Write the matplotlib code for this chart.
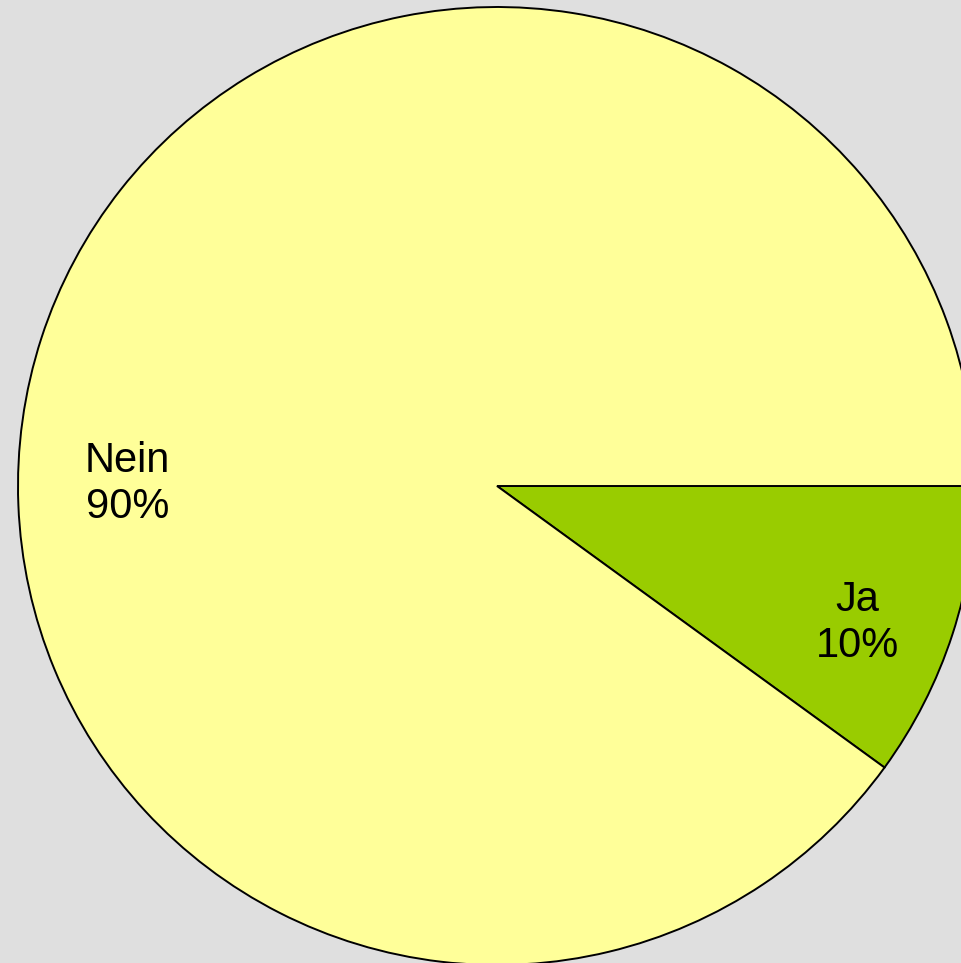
import matplotlib
matplotlib.use("Agg")
import matplotlib.pyplot as plt

categories = ["Ja", "Nein"]
values = [10, 90]
colors = ["#99CC00", "#FFFF99"]
label_pos = [(0.752, -0.286), (-0.772, 0.004)]

W, H, DPI = 961, 963, 100
fig = plt.figure(figsize=(W / DPI, H / DPI), dpi=DPI, facecolor="#DFDFDF")
ax = fig.add_axes([0, 0, 1, 1])
ax.set_facecolor("#DFDFDF")

R = 479.0
cx, cy = 497.0, H - 486.0
ax.pie(values, colors=colors, startangle=0, counterclock=False,
       radius=1.0, wedgeprops=dict(edgecolor="black", linewidth=1.4))
ax.set_xlim(-cx / R, (W - cx) / R)
ax.set_ylim(-cy / R, (H - cy) / R)
ax.set_aspect("auto")
ax.axis("off")

total = sum(values)
for cat, v, (x, y) in zip(categories, values, label_pos):
    ax.text(x, y, f"{cat}\n{round(100 * v / total)}%", ha="center", va="center",
            fontsize=30, family="Liberation Sans", color="black", linespacing=1.2)

fig.savefig("out.png", dpi=DPI, facecolor=fig.get_facecolor())
